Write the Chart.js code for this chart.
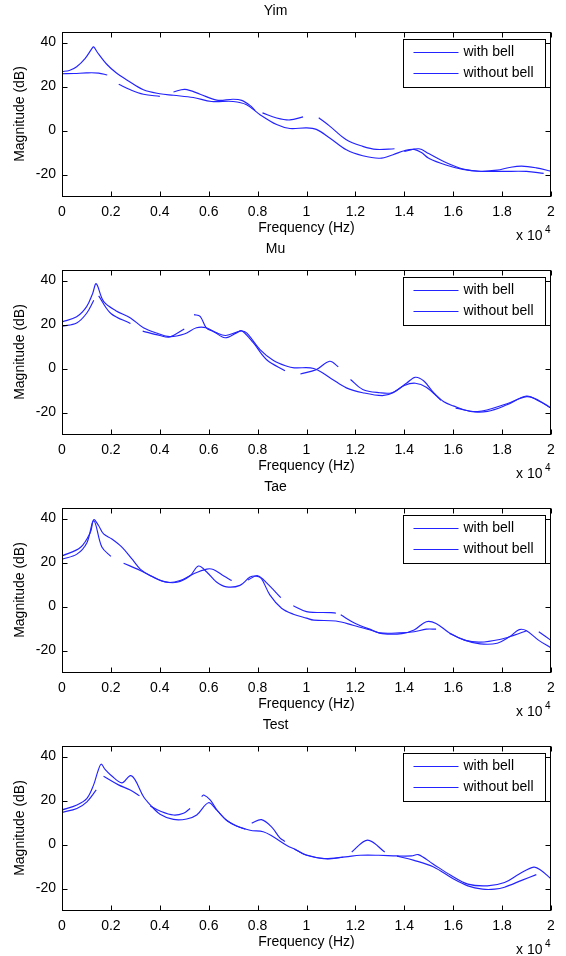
<!DOCTYPE html>
<html>
<head>
<meta charset="utf-8">
<title>Magnitude responses</title>
<script src="https://cdn.jsdelivr.net/npm/chart.js@4.4.1/dist/chart.umd.min.js"></script>
<style>
  body { margin: 0; background: #fff; }
  canvas { position: absolute; left: 0; }
</style>
</head>
<body>
<canvas id="c0" width="566" height="250" style="top:0px"></canvas>
<canvas id="c1" width="566" height="250" style="top:238px"></canvas>
<canvas id="c2" width="566" height="250" style="top:476px"></canvas>
<canvas id="c3" width="566" height="242" style="top:714px"></canvas>
<script>
const titles = ['Yim', 'Mu', 'Tae', 'Test'];
const seriesLabels = ['with bell', 'without bell'];
const xTicks = [0, 2000, 4000, 6000, 8000, 10000, 12000, 14000, 16000, 18000, 20000];
const yTicks = [-20, 0, 20, 40];

// frequency (Hz) / magnitude (dB); null = break in the dashed trace
const yimWithF = [0, 300, 600, 950, 1250, 1300, 1430, 1840, 2240, 2650, 3330, 4000, 4560, 5370, 6120, 7000, 7550, 8100, 8780, 9320, 10000, 10400, 10950, 11630, 12300, 13000, 13540, 14000, 14400, 14700, 15000, 15700, 16400, 17100, 17800, 18300, 18800, 19400, 20000];
const yimWithDb = [26.8, 27.3, 29, 32.8, 37.7, 38, 35.8, 30, 26, 23, 18.5, 16.7, 16, 15, 13.2, 13.2, 11.7, 7.2, 2.7, 0.9, 1.2, 0.5, -3.4, -8.8, -11.5, -12.6, -11, -9.2, -8.6, -10, -12.6, -15.7, -17.7, -18.5, -18, -16.8, -16.2, -17, -18.5];
const yimWithoutF = [0, 500, 1000, 1500, 1850, 2100, 2320, 2800, 3330, 4000, 4300, 4560, 5030, 5650, 6330, 7000, 7350, 7700, 7900, 8050, 8200, 8780, 9320, 9860, 10200, 10500, 10950, 11630, 12300, 12860, 13600, 13800, 14000, 14600, 15000, 15700, 16400, 17000, 18000, 19000, 19700];
const yimWithoutDb = [25.8, 25.9, 26.2, 26.1, 25.2, null, 21, 18.5, 16.5, 15.5, null, 17.5, 18.7, 16.5, 13.8, 14.2, 13.7, 11.3, 9, null, 8, 5.7, 4.8, 6.2, null, 5.8, 2, -4.2, -7.2, -8.6, -8.3, null, -9.5, -8.3, -10.5, -14.5, -17.5, -18.5, -18.6, -18.6, -19.5];

const muWithF = [0, 600, 1000, 1250, 1400, 1700, 2200, 2800, 3330, 3900, 4400, 5000, 5500, 5900, 6300, 6700, 7300, 7550, 8100, 8650, 9200, 9500, 10300, 11000, 11630, 12300, 13100, 13540, 14100, 14450, 14800, 15200, 15600, 16000, 16700, 17400, 18200, 19000, 19500, 20000];
const muWithDb = [21.2, 23.5, 28, 34, 38.5, 30.5, 26.3, 23, 18.5, 16, 14.5, 15.7, 18.5, 18.5, 16.3, 15, 17, 16.2, 8.6, 3.6, 1, 0.3, 0, -4.5, -8.8, -11, -12.3, -11, -6.6, -4, -5.7, -11, -15, -17, -19.5, -19.5, -16.5, -12.5, -14.8, -18];
const muWithoutF = [0, 600, 1000, 1300, 1400, 1500, 2000, 2800, 3050, 3300, 4000, 4400, 5000, 5200, 5400, 5650, 5900, 6200, 6670, 7140, 7350, 7830, 8370, 9120, 9400, 9750, 10400, 10950, 11300, 11550, 11800, 12300, 13000, 13500, 14000, 14450, 14900, 15500, 15800, 16100, 17000, 18200, 19000, 19500, 20000];
const muWithoutDb = [19.2, 20.7, 25, 31, null, 33, 25, 20.5, null, 17, 15, 14.3, 18, null, 24.5, 23.7, 18.5, 16.8, 14, 16.2, 17.2, 11.6, 4, -1, null, -2.5, -0.5, 3.3, 0.8, null, -5, -9.5, -11, -11, -7.7, -6.7, -8.5, -14.5, null, -18, -19.6, -16, -12.8, -14.5, -18];

const taeWithF = [0, 750, 1160, 1300, 1500, 1700, 2040, 2450, 2860, 3200, 3610, 4150, 4700, 5240, 5580, 5920, 6330, 6730, 7280, 7690, 7960, 8160, 8500, 8980, 9460, 10000, 10300, 11200, 11900, 12700, 13100, 13900, 14400, 14900, 15300, 15850, 16500, 17100, 17800, 18300, 18700, 19000, 19500, 20000];
const taeWithDb = [23, 26.8, 33.7, 39.5, 36.7, 33, 30.7, 27, 21.6, 17, 14, 11.4, 11, 14, 18.4, 15.7, 11, 8.9, 9.6, 13.4, 13.8, 12.6, 5.3, -0.8, -3.5, -5.3, -6.2, -6.6, -8.5, -11, -12.3, -12.3, -10.7, -6.9, -7.7, -12, -15.4, -17, -16.7, -13.8, -10.5, -11, -15.4, -18.8];
const taeWithoutF = [0, 610, 1020, 1300, 1630, 2000, 2250, 2520, 3200, 3740, 4300, 4830, 5370, 5920, 6190, 6600, 6940, 7250, 7600, 8000, 8400, 8950, 9200, 9460, 10000, 11000, 11200, 11300, 11400, 12000, 12700, 13000, 13800, 14400, 14900, 15300, 15550, 15850, 16500, 17100, 17900, 18500, 19000, 19250, 19500, 20000];
const taeWithoutDb = [21.5, 23.8, 29, 39, 27, 22.8, null, 19.7, 16.4, 13.4, 11, 11.8, 14.8, 17, 16.8, 14, 11.8, null, 12, 14, 10.4, 4, null, 0.3, -2.3, -2.8, -3, null, -3.8, -7.7, -10.8, -12, -12, -11.5, -10.3, -10.3, null, -12.3, -15.4, -16.2, -15, -13, -11, null, -11.5, -15.4];

const testWithF = [0, 610, 1020, 1290, 1460, 1600, 1770, 2000, 2450, 2790, 2990, 3330, 3610, 4010, 4560, 5100, 5510, 5990, 6330, 6730, 7140, 7690, 8230, 8640, 9180, 9600, 10000, 10700, 11600, 12200, 12950, 13700, 14300, 14570, 15160, 15900, 16600, 17400, 18100, 18700, 19300, 19600, 20000];
const testWithDb = [15.7, 18, 21, 27, 33, 36.5, 34, 31.5, 28, 31.3, 29.4, 21.8, 18, 13.8, 11.4, 11.6, 13.4, 19, 15.6, 11, 8.4, 6.5, 5.8, 3.5, -0.3, -2.6, -4.9, -6.4, -5.6, -4.9, -4.9, -5.2, -5.2, -4.6, -8.7, -14, -18, -18.8, -17.3, -13.4, -10.3, -11.8, -15.6];
const testWithoutF = [0, 610, 1020, 1400, 1550, 1700, 2310, 2790, 3170, 3400, 3610, 4010, 4560, 4970, 5240, 5500, 5710, 5800, 6060, 6330, 6730, 7140, 7500, 7600, 7760, 8160, 8570, 8910, 9120, 9300, 9500, 10000, 10800, 11500, 11700, 11850, 12500, 13200, 13450, 13700, 14400, 15200, 16000, 16600, 17200, 17700, 18100, 18800, 19400];
const testWithoutDb = [14.6, 16.4, 19.4, 24.8, null, 31, 27.1, 24.8, 22.1, null, 17.5, 15.2, 13.4, 14.2, 16.4, null, 21.8, 22.5, 20.3, 15.8, 11, 8.4, 7, null, 9.7, 11.3, 8, 3, 1.4, null, -2, -4.8, -6.5, -5.8, null, -3.4, 2, -3.4, null, -5.3, -7.2, -10.2, -15.6, -18.8, -20.3, -20.3, -19.4, -16.3, -13.7];

const panels = [
    [yimWithF, yimWithDb, yimWithoutF, yimWithoutDb],
    [muWithF, muWithDb, muWithoutF, muWithoutDb],
    [taeWithF, taeWithDb, taeWithoutF, taeWithoutDb],
    [testWithF, testWithDb, testWithoutF, testWithoutDb]
];

const FONT = '"Liberation Sans", Arial, Helvetica, sans-serif';
const LINE_BLUE = 'rgb(35, 35, 255)';
Chart.defaults.font.family = FONT;
Chart.defaults.font.size = 14;
Chart.defaults.color = '#000';

function toPoints(fs, dbs) {
    return fs.map((f, i) => ({ x: f, y: dbs[i] }));
}

// matlab style box, inward ticks, legend and the x10^4 multiplier
const matlabAxes = {
    id: 'matlabAxes',
    afterDraw(chart) {
        const ctx = chart.ctx;
        const a = chart.chartArea;
        const xs = chart.scales.x, ys = chart.scales.y;
        const L = Math.round(a.left) + 0.5, R = Math.round(a.right) - 0.5;
        const T = Math.round(a.top) + 0.5, B = Math.round(a.bottom) - 0.5;
        ctx.save();
        ctx.strokeStyle = '#000';
        ctx.lineWidth = 1;
        ctx.beginPath();
        xTicks.forEach(v => {
            const px = Math.round(xs.getPixelForValue(v)) + 0.5;
            ctx.moveTo(px, B); ctx.lineTo(px, B - 5);
            ctx.moveTo(px, T); ctx.lineTo(px, T + 5);
        });
        yTicks.forEach(v => {
            const py = Math.round(ys.getPixelForValue(v)) + 0.5;
            ctx.moveTo(L, py); ctx.lineTo(L + 5, py);
            ctx.moveTo(R, py); ctx.lineTo(R - 5, py);
        });
        ctx.stroke();
        ctx.strokeRect(L, T, R - L, B - T);

        // legend
        const lw = 142, lh = 48;
        const lx = Math.round(a.right) - 6 - lw + 0.5, ly = T + 7;
        ctx.fillStyle = '#fff';
        ctx.fillRect(lx, ly, lw, lh);
        ctx.strokeRect(lx, ly, lw, lh);
        ctx.font = '14px ' + FONT;
        ctx.textBaseline = 'middle';
        ctx.textAlign = 'left';
        chart.data.datasets.forEach((ds, i) => {
            const yy = ly + 13 + i * 21;
            ctx.strokeStyle = ds.borderColor;
            ctx.lineWidth = ds.borderWidth;
            ctx.beginPath();
            ctx.moveTo(lx + 10, yy); ctx.lineTo(lx + 55, yy);
            ctx.stroke();
            ctx.fillStyle = '#000';
            ctx.fillText(ds.label, lx + 60, yy);
        });

        // exponent
        ctx.fillStyle = '#000';
        ctx.textBaseline = 'alphabetic';
        ctx.font = '14px ' + FONT;
        ctx.fillText('x 10', a.right - 35, a.bottom + 43);
        ctx.font = '10px ' + FONT;
        ctx.fillText('4', a.right - 6, a.bottom + 36);
        ctx.restore();
    }
};

panels.forEach((p, k) => {
    const canvas = document.getElementById('c' + k);
    const extra = canvas.height - 238;
    new Chart(canvas.getContext('2d'), {
        type: 'line',
        data: {
            datasets: [{
                label: seriesLabels[0],
                data: toPoints(p[0], p[1]),
                borderColor: LINE_BLUE,
                borderWidth: 1.15,
                pointRadius: 0,
                tension: 0.35,
                fill: false
            }, {
                label: seriesLabels[1],
                data: toPoints(p[2], p[3]),
                borderColor: LINE_BLUE,
                borderWidth: 1.15,
                pointRadius: 0,
                tension: 0.35,
                spanGaps: false,
                fill: false
            }]
        },
        options: {
            responsive: false,
            animation: false,
            layout: { padding: { top: 0, right: 15, bottom: extra, left: 0 } },
            plugins: {
                legend: { display: false },
                tooltip: { enabled: false },
                title: {
                    display: true,
                    text: titles[k],
                    color: '#000',
                    font: { size: 14, weight: 'normal' },
                    padding: { top: 3, bottom: 11.7 }
                }
            },
            scales: {
                x: {
                    type: 'linear',
                    min: 0,
                    max: 20000,
                    afterBuildTicks: s => { s.ticks = xTicks.map(v => ({ value: v })); },
                    afterFit: s => { s.height = 41.5; },
                    grid: { display: false, drawTicks: false },
                    border: { display: false },
                    ticks: {
                        padding: 7,
                        maxRotation: 0,
                        autoSkip: false,
                        callback: v => String(+(v / 10000).toFixed(1))
                    },
                    title: {
                        display: true,
                        text: 'Frequency (Hz)',
                        padding: { top: 0, bottom: 1 }
                    }
                },
                y: {
                    min: -30,
                    max: 45,
                    afterBuildTicks: s => { s.ticks = yTicks.map(v => ({ value: v })); },
                    afterFit: s => { s.width = 62; },
                    grid: { display: false, drawTicks: false },
                    border: { display: false },
                    ticks: { padding: 6 },
                    title: {
                        display: true,
                        text: 'Magnitude (dB)',
                        padding: { top: 12, bottom: 0 }
                    }
                }
            }
        },
        plugins: [matlabAxes]
    });
});
</script>
</body>
</html>
